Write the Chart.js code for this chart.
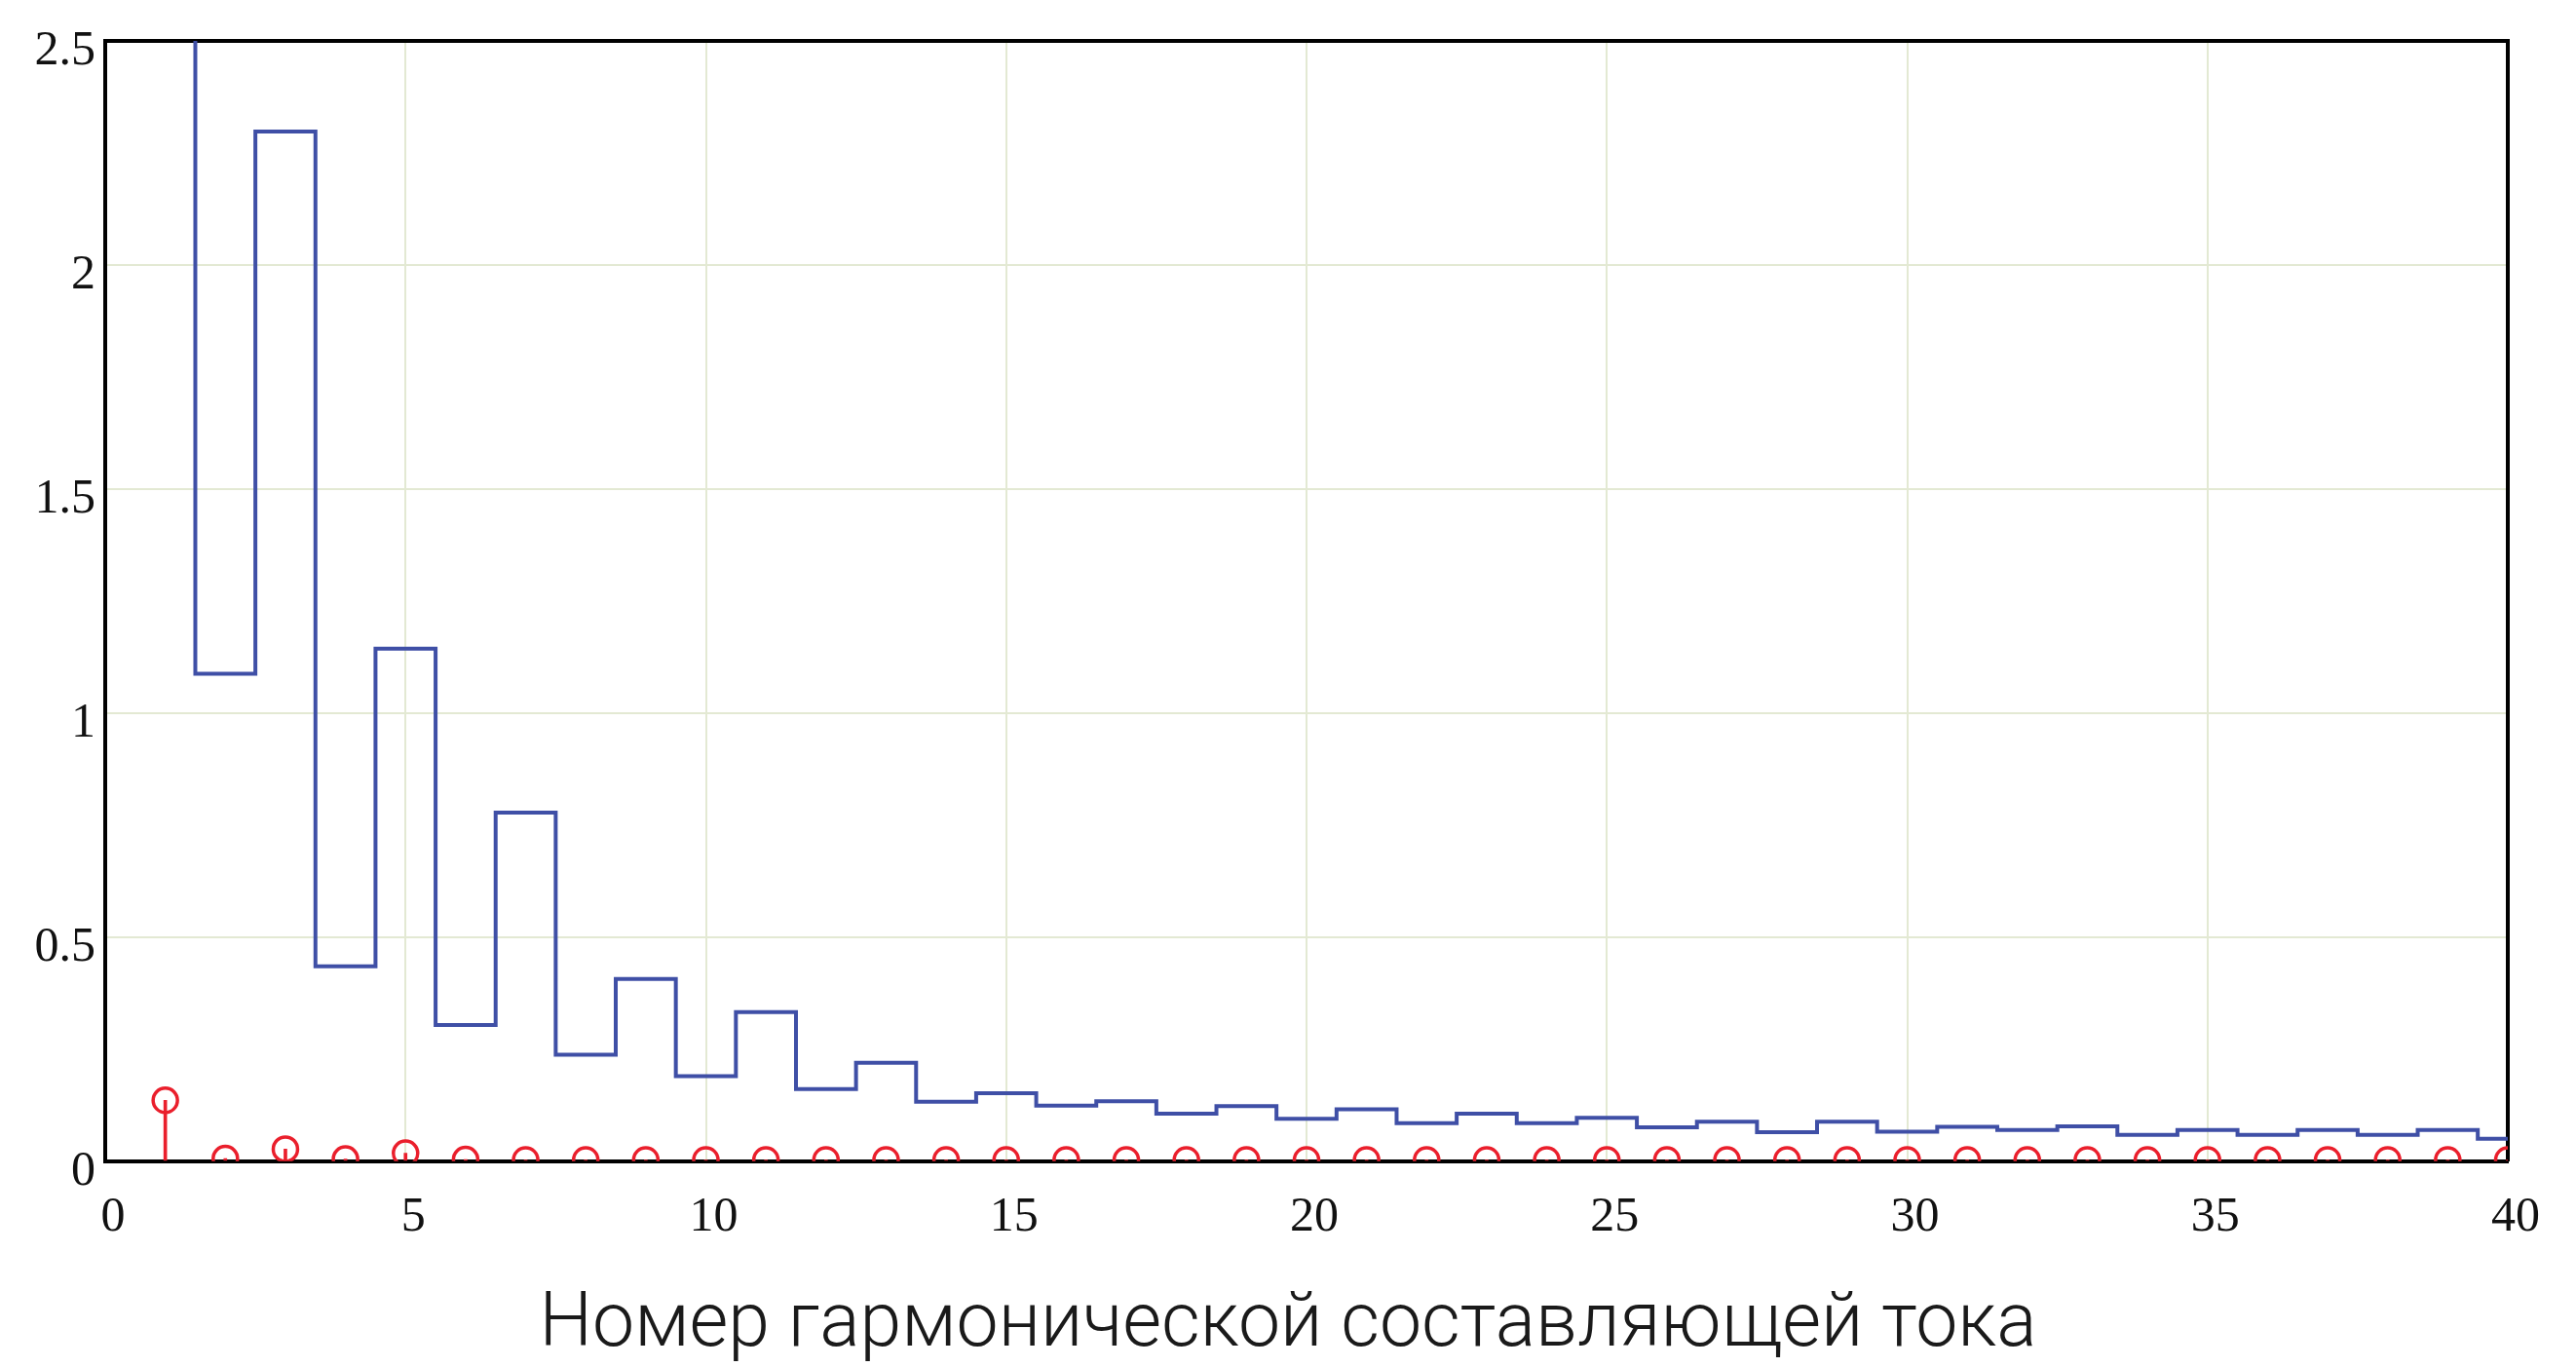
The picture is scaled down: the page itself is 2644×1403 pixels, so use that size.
<!DOCTYPE html>
<html>
<head>
<meta charset="utf-8">
<script src="https://cdn.jsdelivr.net/npm/chart.js@4.4.1/dist/chart.umd.min.js"></script>
<style>
html, body { margin: 0; padding: 0; background: #ffffff; }
#wrap { width: 2644px; height: 1403px; }
</style>
</head>
<body>
<div id="wrap"><canvas id="c" width="2644" height="1403"></canvas></div>
<script>
// ---- data ----
const harmonics = [1,2,3,4,5,6,7,8,9,10,11,12,13,14,15,16,17,18,19,20,21,22,23,24,25,26,27,28,29,30,31,32,33,34,35,36,37,38,39,40];
// blue step trace (harmonic 1 is off-scale, estimated)
const blueValues = [7.0,1.088,2.298,0.435,1.144,0.304,0.778,0.238,0.407,0.19,
                    0.333,0.161,0.22,0.133,0.152,0.124,0.134,0.106,0.123,0.095,
                    0.116,0.085,0.106,0.085,0.097,0.076,0.088,0.065,0.088,0.066,
                    0.077,0.07,0.078,0.059,0.07,0.059,0.07,0.059,0.07,0.05];
// red stem trace
const redValues = [0.136,0.006,0.027,0.005,0.018,0.004,0.003,0.003,0.003,0.003,
                   0.003,0.003,0.003,0.003,0.003,0.003,0.003,0.003,0.003,0.003,
                   0.003,0.003,0.003,0.003,0.003,0.003,0.003,0.003,0.003,0.003,
                   0.003,0.003,0.003,0.003,0.003,0.003,0.003,0.003,0.003,0.003];
const xTickValues = [0,5,10,15,20,25,30,35,40];
const xTickLabels = ['0','5','10','15','20','25','30','35','40'];
const yTickValues = [0,0.5,1,1.5,2,2.5];
const yTickLabels = ['0','0.5','1','1.5','2','2.5'];
const xAxisTitle = 'Номер гармонической составляющей тока';

// ---- build ----
const bluePts = harmonics.map((h, i) => ({ x: h, y: blueValues[i] }));
const redPts = harmonics.map((h, i) => ({ x: h, y: redValues[i] }));

const tickFont = { family: "'Liberation Serif', 'Times New Roman', serif", size: 50 };
const gridColor = '#e3e9d3';

Chart.defaults.font.family = "'Liberation Serif', serif";

new Chart(document.getElementById('c'), {
  data: {
    datasets: [
      {
        type: 'line',
        data: bluePts,
        stepped: 'middle',
        borderColor: '#3f4fa6',
        borderWidth: 4,
        pointRadius: 0,
        fill: false,
        order: 3
      },
      {
        type: 'bar',
        data: redPts,
        backgroundColor: '#ea1f2c',
        borderWidth: 0,
        barThickness: 3,
        order: 2
      },
      {
        type: 'line',
        data: redPts,
        showLine: false,
        pointStyle: 'circle',
        pointRadius: 12.5,
        pointBorderWidth: 3.5,
        pointBorderColor: '#ea1f2c',
        pointBackgroundColor: 'rgba(0,0,0,0)',
        clip: 0,
        order: 1
      }
    ]
  },
  options: {
    responsive: false,
    animation: false,
    devicePixelRatio: 1,
    layout: { padding: 0 },
    plugins: {
      legend: { display: false },
      tooltip: { enabled: false },
      title: {
        display: true,
        position: 'bottom',
        text: xAxisTitle,
        color: '#1a1a1a',
        font: { family: "Roboto, 'Liberation Sans', sans-serif", size: 77, weight: '300', lineHeight: 1.08 },
        padding: { top: 0, bottom: 0 }
      }
    },
    scales: {
      x: {
        type: 'linear',
        position: 'bottom',
        offset: false,
        min: 0, max: 40,
        afterBuildTicks: (s) => { s.ticks = xTickValues.map(v => ({ value: v })); },
        afterFit: (s) => { s.height = 128; },
        ticks: {
          callback: (v, i) => xTickLabels[i],
          font: tickFont, color: '#111111',
          padding: 28, labelOffset: 8, maxRotation: 0, autoSkip: false
        },
        grid: { color: gridColor, lineWidth: 2, drawTicks: false, offset: false },
        border: { display: true, color: '#000000', width: 4 }
      },
      y: {
        type: 'linear',
        position: 'left',
        min: 0, max: 2.5,
        afterBuildTicks: (s) => { s.ticks = yTickValues.map(v => ({ value: v })); },
        afterFit: (s) => { s.width = 108; },
        ticks: {
          callback: (v, i) => yTickLabels[i],
          font: tickFont, color: '#111111',
          padding: 10, labelOffset: 11, autoSkip: false
        },
        grid: { color: gridColor, lineWidth: 2, drawTicks: false },
        border: { display: true, color: '#000000', width: 4 }
      },
      xTop: {
        type: 'linear',
        position: 'top',
        offset: false,
        min: 0, max: 40,
        afterFit: (s) => { s.height = 42; },
        ticks: { display: false },
        grid: { display: false, drawTicks: false },
        border: { display: true, color: '#000000', width: 4 }
      },
      yRight: {
        type: 'linear',
        position: 'right',
        min: 0, max: 2.5,
        afterFit: (s) => { s.width = 70; },
        ticks: { display: false },
        grid: { display: false, drawTicks: false },
        border: { display: true, color: '#000000', width: 4 }
      }
    }
  }
});
</script>
</body>
</html>
